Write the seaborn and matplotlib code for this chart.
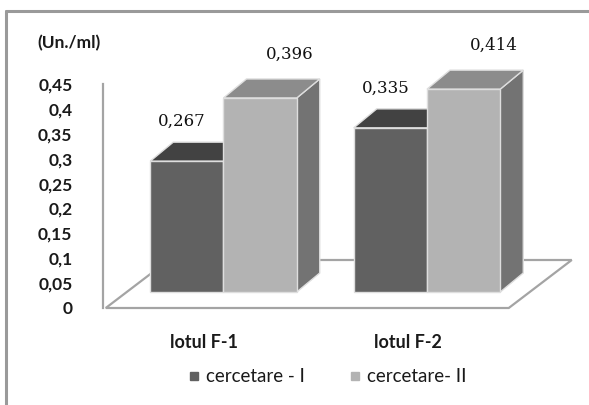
import matplotlib
matplotlib.use("Agg")
import matplotlib.pyplot as plt
import seaborn as sns
import pandas as pd
from matplotlib.patches import Polygon
from matplotlib.lines import Line2D

# ---- data ----
categories = ["lotul F-1", "lotul F-2"]
series = ["cercetare - I", "cercetare- II"]
values_I = [0.267, 0.335]
values_II = [0.396, 0.414]
yticks = [0, 0.05, 0.1, 0.15, 0.2, 0.25, 0.3, 0.35, 0.4, 0.45]
unit_label = "(Un./ml)"

sns.set_style("white")
plt.rcParams["font.family"] = ["Lato", "DejaVu Sans"]

W, H, DPI = 589, 405, 100
fig = plt.figure(figsize=(W / DPI, H / DPI), dpi=DPI)
fig.patch.set_facecolor("white")

df = pd.DataFrame({
    "lot": categories * 2,
    "serie": [series[0]] * 2 + [series[1]] * 2,
    "val": values_I + values_II,
})

front_cols = ["#616161", "#b3b3b3"]
top_cols = ["#424242", "#8c8c8c"]
side_cols = ["#4c4c4c", "#737373"]

# main bar axes spanning the figure (pixel-calibrated)
ax = fig.add_axes([0, 0, 1, 1])
sns.barplot(data=df, x="lot", y="val", hue="serie", hue_order=series,
            order=categories, palette=front_cols, width=0.72, saturation=1,
            edgecolor="#dedede", linewidth=1.0, legend=False, ax=ax)

px_x = 203.5            # pixels per category unit
x0px = 223.5            # pixel of category 0 centre
px_y = 490.0            # pixels per value unit
y0px = 292.0            # pixel (from top) of value 0
ax.set_xlim(-x0px / px_x, (W - x0px) / px_x)
ax.set_ylim(-(H - y0px) / px_y, y0px / px_y)
ax.axis("off")

dx = 23 / px_x
dy = 19 / px_y

# floor
fl, fr = -0.5 - 16 / px_x, 1 + 0.5 - 20 / px_x
fb = -16 / px_y
fdx, fdy = 63 / px_x, 48 / px_y
floor = Polygon([(fl, fb), (fr, fb), (fr + fdx, fb + fdy), (fl + fdx, fb + fdy)],
                closed=True, facecolor="white", edgecolor="#a4a4a4", lw=1.6, zorder=1)
ax.add_patch(floor)

# collect bars with series index
bars = []
for si, cont in enumerate(ax.containers):
    for p in cont.patches:
        bars.append((p.get_x(), si, p))
bars.sort(key=lambda t: t[0])

label_off = [(-5, 40), (30, 44)]
for k, (_, si, p) in enumerate(bars):
    x0 = p.get_x()
    x1 = x0 + p.get_width()
    h = p.get_height()
    z = 3 + 3 * k
    side = Polygon([(x1, 0), (x1, h), (x1 + dx, h + dy), (x1 + dx, dy)], closed=True,
                   facecolor=side_cols[si], edgecolor="#dedede", lw=1.0, zorder=z)
    top = Polygon([(x0, h), (x1, h), (x1 + dx, h + dy), (x0 + dx, h + dy)], closed=True,
                  facecolor=top_cols[si], edgecolor="#dedede", lw=1.0, zorder=z + 1)
    ax.add_patch(side)
    ax.add_patch(top)
    p.set_zorder(z + 2)
    ox, oy = label_off[si]
    ax.annotate(f"{h:.3f}".replace(".", ","), xy=((x0 + x1) / 2, h),
                xytext=(ox, oy), textcoords="offset pixels", ha="center", va="center",
                fontsize=12, family="DejaVu Serif", color="#111111", zorder=50)

# category labels
for i, c in enumerate(categories):
    ax.text(i - 19 / px_x, -51 / px_y, c, ha="center", va="center",
            fontsize=13, fontweight="bold", color="#1a1a1a")

# y axis
axy = fig.add_axes([103 / W, (H - 308) / H, 0.001, 224 / H])
axy.set_ylim(0, 0.45)
axy.set_yticks(yticks)
axy.set_yticklabels([("%g" % t).replace(".", ",") for t in yticks],
                    fontsize=12.5, fontweight="bold", color="#1a1a1a")
axy.set_xticks([])
axy.patch.set_alpha(0)
for s in ["top", "right", "bottom"]:
    axy.spines[s].set_visible(False)
axy.spines["left"].set_color("#a4a4a4")
axy.spines["left"].set_linewidth(1.6)
axy.tick_params(axis="y", length=0, pad=22)

fig.text(37 / W, 1 - 43 / H, unit_label, ha="left", va="center",
         fontsize=12.5, fontweight="bold", color="#1a1a1a")

# legend
handles = [Line2D([], [], marker="s", linestyle="", markersize=6,
                  markerfacecolor=c, markeredgecolor=c) for c in front_cols]
fig.legend(handles, series, loc="center", bbox_to_anchor=(328 / W, 1 - 377 / H),
           ncol=2, frameon=False, fontsize=13.5, handlelength=0.5,
           handletextpad=0.4, columnspacing=2.4, labelcolor="#1a1a1a")

# frame of the chart area
fig.add_artist(Line2D([6 / W, 6 / W], [0, 1 - 11 / H], transform=fig.transFigure,
                      color="#9a9a9a", lw=2.2))
fig.add_artist(Line2D([6 / W, 1], [1 - 11 / H, 1 - 11 / H], transform=fig.transFigure,
                      color="#9a9a9a", lw=2.2))

fig.savefig("out.png", dpi=DPI, facecolor="white")
